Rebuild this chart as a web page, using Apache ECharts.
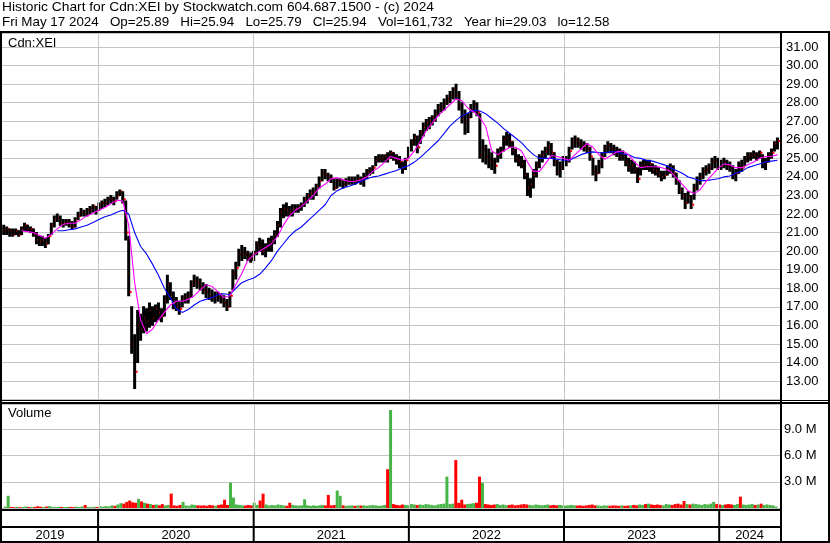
<!DOCTYPE html>
<html><head><meta charset="utf-8">
<script src="https://cdn.jsdelivr.net/npm/echarts@6/dist/echarts.min.js"></script>
<style>html,body{margin:0;padding:0;background:#fff}#c{width:830px;height:543px}</style>
</head><body><div id="c"></div>
<script>
// ---------- texts ----------
const titleLine1 = 'Historic Chart for Cdn:XEI by Stockwatch.com 604.687.1500 - (c) 2024';
const titleLine2 = 'Fri May 17 2024   Op=25.89   Hi=25.94   Lo=25.79   Cl=25.94   Vol=161,732   Year hi=29.03   lo=12.58';
const symbolLabel = 'Cdn:XEI';
const volumeLabel = 'Volume';
const yearLabels = ['2019', '2020', '2021', '2022', '2023', '2024'];

// ---------- time frame (weekly bars, first bar Fri 2019-05-24, last Fri 2024-05-17) ----------
const firstBar = [2019, 4, 24];
const axisStart = [2019, 4, 20];
const axisEnd = [2024, 4, 23];

// ---------- weekly price bars ----------
const lows = [
20.9,20.9,20.8,20.8,20.9,20.8,20.9,21.1,21.1,21.0,
20.8,20.4,20.3,20.3,20.2,20.4,20.9,21.3,21.6,21.4,
21.3,21.4,21.3,21.2,21.3,21.7,21.9,21.9,21.9,22.0,
22.1,22.0,22.2,22.3,22.4,22.5,22.6,22.5,22.8,23.0,
22.6,20.6,17.6,14.5,12.6,14.0,15.2,15.6,15.7,15.9,
16.0,16.2,16.3,16.2,16.5,17.2,17.4,16.9,16.8,16.6,
17.0,17.2,17.2,17.5,18.1,18.0,17.9,17.7,17.5,17.4,
17.3,17.2,17.3,17.2,17.0,16.8,17.0,17.9,18.5,19.2,
19.5,19.6,19.5,19.4,19.5,19.8,20.0,19.8,19.7,20.0,
20.0,20.4,20.8,21.3,21.8,21.9,21.9,21.9,22.1,22.1,
22.2,22.4,22.6,22.8,22.8,23.0,23.4,23.8,23.9,23.8,
23.7,23.3,23.4,23.5,23.4,23.5,23.6,23.6,23.6,23.7,
23.6,23.5,23.9,24.1,24.2,24.6,24.8,24.8,24.8,24.8,
25.0,24.9,24.7,24.5,24.2,24.4,25.0,25.4,25.7,25.3,
25.8,26.2,26.5,26.6,26.8,27.0,27.3,27.5,27.6,27.9,
28.0,28.2,28.2,27.6,26.9,26.3,26.4,27.2,27.5,27.3,
25.0,24.8,24.7,24.5,24.4,24.2,24.8,25.0,25.4,25.7,
25.6,25.2,24.8,24.6,24.5,23.9,23.0,22.9,23.4,24.0,
24.5,24.8,25.0,25.2,25.0,24.6,24.1,24.0,24.4,24.6,
24.8,25.5,25.6,25.6,25.5,25.4,25.3,24.9,24.1,23.8,
24.2,24.5,25.1,25.3,25.3,25.2,25.1,24.9,24.9,24.6,
24.3,24.2,24.2,23.7,24.1,24.4,24.4,24.3,24.2,24.1,
24.0,23.8,23.9,24.1,24.2,24.0,23.6,23.1,22.8,22.3,
22.6,22.3,22.8,23.3,23.6,23.9,24.1,24.2,24.4,24.5,
24.4,24.4,24.5,24.4,24.3,23.9,23.8,24.2,24.3,24.6,
24.8,24.9,25.0,24.9,25.0,24.5,24.4,24.8,25.0,25.4,25.5];
const highs = [
21.4,21.3,21.2,21.2,21.2,21.1,21.3,21.5,21.4,21.3,
21.2,21.0,20.8,20.8,20.7,20.9,21.5,21.9,22.0,21.9,
21.7,21.7,21.7,21.6,21.8,22.1,22.3,22.2,22.3,22.4,
22.5,22.4,22.6,22.7,22.8,22.9,23.0,22.9,23.2,23.3,
23.2,22.7,20.8,17.0,15.5,16.8,16.6,17.0,16.9,17.2,
17.0,17.1,17.2,16.9,17.6,18.7,18.3,17.8,17.5,17.3,
17.6,17.7,17.8,18.4,18.7,18.6,18.5,18.3,18.2,18.0,
17.9,17.8,17.8,17.7,17.6,17.4,17.8,19.0,19.4,20.1,
20.3,20.2,20.0,19.9,20.0,20.5,20.7,20.6,20.4,20.7,
20.8,21.1,21.6,22.3,22.5,22.6,22.4,22.5,22.5,22.5,
22.6,22.9,23.1,23.3,23.4,23.6,24.0,24.4,24.4,24.2,
24.1,23.9,23.9,23.9,23.8,23.9,24.0,24.0,24.0,24.1,
24.0,24.2,24.4,24.5,24.6,25.1,25.2,25.2,25.2,25.3,
25.4,25.3,25.2,25.1,24.8,25.0,25.6,26.0,26.3,26.2,
26.5,26.9,27.1,27.2,27.3,27.6,27.9,28.0,28.2,28.4,
28.6,28.8,29.0,28.6,28.0,27.6,27.4,27.9,28.1,28.0,
27.4,26.0,25.7,25.5,25.3,25.0,25.5,25.6,26.2,26.4,
26.3,25.9,25.5,25.2,25.1,24.9,24.2,23.9,24.4,24.8,
25.2,25.4,25.6,25.9,25.8,25.3,24.9,24.8,25.1,25.1,
25.6,26.1,26.2,26.1,26.0,25.9,25.8,25.6,25.0,24.6,
24.9,25.3,25.7,25.9,25.8,25.7,25.6,25.5,25.4,25.2,
25.0,24.9,24.8,24.5,24.8,24.9,24.9,24.9,24.7,24.6,
24.5,24.3,24.3,24.6,24.7,24.6,24.2,23.8,23.4,23.1,
23.2,23.0,23.6,24.0,24.2,24.5,24.6,24.7,25.0,25.1,
25.0,24.9,25.0,24.9,24.8,24.6,24.4,24.8,24.9,25.1,
25.3,25.3,25.4,25.3,25.4,25.2,25.0,25.3,25.5,25.9,26.1];
const closes = [
21.1,21.2,21.1,20.9,21.1,20.9,21.2,21.4,21.2,21.2,
20.9,20.6,20.5,20.6,20.4,20.8,21.4,21.7,21.8,21.5,
21.5,21.6,21.4,21.3,21.7,21.9,22.1,22.0,22.2,22.3,
22.4,22.2,22.5,22.6,22.6,22.8,22.8,22.7,23.0,23.2,
22.8,21.0,17.8,15.0,13.5,16.0,15.8,16.4,16.2,16.8,
16.4,16.9,16.7,16.5,17.3,18.2,17.6,17.2,17.0,16.9,
17.4,17.5,17.6,18.2,18.4,18.3,18.1,17.9,17.8,17.6,
17.5,17.6,17.5,17.4,17.2,17.0,17.6,18.8,19.1,19.8,
19.9,19.8,19.7,19.6,19.9,20.4,20.2,20.0,20.2,20.5,
20.6,20.9,21.4,22.1,22.3,22.2,22.1,22.3,22.3,22.4,
22.5,22.8,23.0,23.1,23.2,23.5,23.8,24.2,24.1,24.0,
23.9,23.4,23.8,23.85,23.6,23.7,23.8,23.9,23.8,23.9,
23.8,24.0,24.3,24.4,24.5,24.9,25.0,25.0,25.1,25.0,
25.3,25.0,24.9,24.8,24.5,24.9,25.5,25.9,26.1,25.6,
26.4,26.7,26.9,27.0,27.2,27.4,27.7,27.8,28.0,28.2,
28.4,28.7,28.4,27.8,27.2,27.0,27.2,27.6,27.9,27.5,
25.2,25.5,25.1,24.9,24.8,24.6,25.2,25.4,26.0,26.1,
25.9,25.4,25.0,24.9,24.7,24.1,23.4,23.6,24.1,24.6,
25.0,25.2,25.4,25.6,25.3,24.8,24.3,24.5,24.8,24.9,
25.4,25.9,26.0,25.8,25.7,25.6,25.5,25.1,24.3,24.2,
24.7,25.1,25.5,25.7,25.5,25.4,25.3,25.1,25.2,24.8,
24.5,24.6,24.4,23.9,24.6,24.7,24.6,24.7,24.4,24.3,
24.1,24.0,24.1,24.4,24.5,24.2,23.8,23.3,23.0,22.6,
22.9,22.5,23.4,23.8,24.0,24.3,24.4,24.5,24.8,24.9,
24.7,24.6,24.8,24.6,24.5,24.1,24.2,24.6,24.5,24.9,
25.1,25.2,25.2,25.1,25.3,24.7,24.8,25.2,25.3,25.8,25.94];

// ---------- weekly volume, millions of shares ----------
const volumesM = [
0.15,1.4,0.12,0.1,0.14,0.1,0.12,0.18,0.12,0.1,
0.13,0.2,0.15,0.12,0.17,0.22,0.12,0.1,0.14,0.12,
0.1,0.13,0.12,0.1,0.15,0.12,0.18,0.35,0.12,0.1,
0.14,0.12,0.2,0.15,0.22,0.18,0.3,0.25,0.4,0.55,
0.5,0.7,0.85,0.65,0.6,1.05,0.75,0.6,0.5,0.45,
0.35,0.4,0.3,0.45,0.3,0.35,1.65,0.3,0.25,0.35,
0.7,0.3,0.25,0.4,0.35,0.3,0.28,0.3,0.25,0.35,
0.3,0.25,0.35,0.4,0.95,0.35,2.9,1.2,0.4,0.35,
0.3,0.28,0.35,0.3,0.6,0.35,0.86,1.64,0.4,0.3,
0.35,0.3,0.4,0.35,0.3,0.25,0.6,0.35,0.3,0.28,
0.3,1.0,0.3,0.25,0.3,0.25,0.3,0.35,0.3,1.5,
0.3,0.35,2.0,1.4,0.3,0.25,0.28,0.3,0.25,0.3,
0.28,0.3,0.25,0.3,0.35,0.3,0.25,0.28,0.35,4.45,
11.25,0.45,0.35,0.3,0.4,0.35,0.3,0.45,0.4,0.35,
0.4,0.35,0.45,0.4,0.35,0.3,0.4,0.45,0.5,3.6,
0.45,0.5,5.5,0.6,0.95,0.4,0.45,0.5,0.55,0.6,
3.6,2.9,0.45,0.4,0.35,0.4,0.45,0.35,0.4,0.3,
0.35,0.4,0.3,0.35,0.4,0.45,0.4,0.35,0.3,0.4,
0.35,0.3,0.35,0.4,0.3,0.35,0.3,0.35,0.3,0.28,
0.3,0.35,0.3,0.28,0.3,0.25,0.3,0.35,0.4,0.3,
0.28,0.25,0.3,0.28,0.25,0.3,0.28,0.25,0.3,0.25,
0.28,0.3,0.35,0.3,0.4,0.35,0.45,0.5,0.4,0.35,
0.4,0.35,0.3,0.45,0.4,0.35,0.45,0.5,0.4,0.8,
0.45,0.4,0.5,0.45,0.4,0.35,0.45,0.4,0.5,0.7,
0.45,0.4,0.35,0.4,0.45,0.4,0.35,0.45,1.3,0.4,
0.35,0.4,0.45,0.35,0.4,0.5,0.35,0.4,0.35,0.3,0.16];

// ---------- moving averages, read every 2 weeks ----------
const maFast = [
null,null,null,21.1,21.05,21.0,20.85,20.7,20.9,21.2,
21.45,21.5,21.5,21.7,21.9,22.05,22.2,22.35,22.55,22.75,
22.7,21.4,18.3,16.3,15.55,15.8,16.3,16.7,17.1,17.3,
17.3,17.4,17.6,17.9,18.2,18.1,17.8,17.5,17.6,18.2,
18.8,19.5,19.8,20.0,20.2,20.4,20.8,21.4,21.9,22.2,
22.4,22.7,23.0,23.4,23.6,23.9,23.95,23.85,23.75,23.75,
23.85,24.0,24.3,24.5,24.8,25.1,25.0,24.9,25.0,25.4,
25.9,26.5,26.9,27.3,27.6,27.9,28.2,28.1,27.7,27.5,
27.2,26.7,25.4,25.2,25.4,25.6,25.6,25.4,24.8,24.3,
24.3,24.7,25.15,25.1,25.0,24.9,25.2,25.5,25.8,25.6,
25.2,24.95,25.15,25.35,25.4,25.2,24.8,24.5,24.55,24.55,
24.55,24.45,24.3,23.95,23.6,23.25,23.1,23.3,23.75,24.1,
24.45,24.7,24.65,24.5,24.5,24.65,24.8,25.0,25.1,25.1,
25.2];
const maSlow = [
null,null,null,null,null,null,null,null,null,21.1,
21.1,21.15,21.2,21.3,21.4,21.55,21.7,21.85,21.95,22.1,
22.2,22.0,21.0,20.25,19.85,19.3,18.7,18.0,17.5,16.9,
16.7,16.85,17.1,17.3,17.4,17.5,17.65,17.7,17.65,18.0,
18.3,18.45,18.55,18.75,19.1,19.5,20.0,20.4,20.8,21.1,
21.3,21.6,21.9,22.2,22.5,23.0,23.25,23.4,23.5,23.6,
23.75,23.9,24.0,24.05,24.15,24.25,24.35,24.5,24.6,24.8,
25.05,25.35,25.65,25.95,26.35,26.75,27.05,27.3,27.45,27.6,
27.55,27.4,27.15,26.9,26.6,26.35,26.1,25.85,25.5,25.2,
25.0,25.0,25.0,24.95,24.9,24.9,25.05,25.2,25.3,25.35,
25.3,25.3,25.35,25.35,25.25,25.2,25.05,25.0,24.9,24.85,
24.75,24.65,24.5,24.35,24.2,24.0,23.9,23.8,23.8,23.85,
23.9,24.0,24.05,24.2,24.3,24.5,24.6,24.7,24.8,24.85,
24.9];

// ---------- build ----------
const DAY = 86400000;
const utc = a => Date.UTC(a[0], a[1], a[2]);
const t0 = utc(firstBar);
const weekTime = i => t0 + i * 7 * DAY;
const xMin = utc(axisStart), xMax = utc(axisEnd);
const yearBounds = yearLabels.slice(1).map(y => Date.UTC(+y, 0, 1));

const barData = closes.map((c, i) => [weekTime(i), lows[i], highs[i], c]);
const volData = volumesM.map((v, i) => [weekTime(i), v]);
const maFastData = maFast.map((v, k) => [weekTime(2 * k), v]).filter(d => d[1] != null);
const maSlowData = maSlow.map((v, k) => [weekTime(2 * k), v]).filter(d => d[1] != null);

const FONT = "'Liberation Sans', Arial, sans-serif";
const GRID_GRAY = '#c4c4c4';
const UP = '#46b446', DOWN = '#ff0000';

const gridLeft = 2, gridWidth = 778;
const xAxisBase = { type: 'time', min: xMin, max: xMax, show: false };

const vline = (color, width) => ({
  silent: true, symbol: 'none', label: { show: false },
  lineStyle: { color: color, width: width, type: 'solid' },
  data: yearBounds.map(t => ({ xAxis: t }))
});

const chart = echarts.init(document.getElementById('c'), null, { renderer: 'canvas' });
const option = {
  animation: false,
  backgroundColor: '#fff',
  grid: [
    { left: gridLeft, width: gridWidth, top: 33.1, height: 366.5 },
    { left: gridLeft, width: gridWidth, top: 403.8, height: 104.2 },
    { left: gridLeft, width: gridWidth, top: 510, height: 32 }
  ],
  xAxis: [
    Object.assign({ gridIndex: 0 }, xAxisBase),
    Object.assign({ gridIndex: 1 }, xAxisBase),
    Object.assign({ gridIndex: 2 }, xAxisBase)
  ],
  yAxis: [
    { gridIndex: 0, type: 'value', position: 'right', min: 12, max: 31.75, interval: 1,
      axisLine: { show: false }, axisTick: { show: false },
      axisLabel: { margin: 6, color: '#000', fontSize: 13, fontFamily: FONT,
        showMinLabel: false, showMaxLabel: false, formatter: v => v.toFixed(2) },
      splitLine: { lineStyle: { color: GRID_GRAY, width: 1 } } },
    { gridIndex: 1, type: 'value', position: 'right', min: 0, max: 11.96, interval: 3,
      axisLine: { show: false }, axisTick: { show: false },
      axisLabel: { margin: 4, color: '#000', fontSize: 13, fontFamily: FONT,
        showMaxLabel: false, formatter: v => v === 0 ? '' : v.toFixed(1) + ' M' },
      splitLine: { lineStyle: { color: GRID_GRAY, width: 1 } } },
    { gridIndex: 2, type: 'value', min: 0, max: 1, show: false }
  ],
  series: [
    { type: 'line', xAxisIndex: 0, yAxisIndex: 0, data: [], z: 1, markLine: vline(GRID_GRAY, 1) },
    { type: 'line', xAxisIndex: 1, yAxisIndex: 1, data: [], z: 1, markLine: vline(GRID_GRAY, 1) },
    {
      type: 'custom', xAxisIndex: 0, yAxisIndex: 0, z: 3, clip: true,
      encode: { x: 0, y: [1, 2, 3] },
      data: barData,
      renderItem: function (params, api) {
        const t = api.value(0);
        const pLo = api.coord([t, api.value(1)]);
        const pHi = api.coord([t, api.value(2)]);
        const pCl = api.coord([t, api.value(3)]);
        return { type: 'group', children: [
          { type: 'line', shape: { x1: pLo[0], y1: pHi[1] - 0.5, x2: pLo[0], y2: pLo[1] + 0.5 },
            style: { stroke: '#000', lineWidth: 3 } },
          { type: 'line', shape: { x1: pCl[0] + 1, y1: pCl[1], x2: pCl[0] + 3, y2: pCl[1] },
            style: { stroke: '#ff0000', lineWidth: 2 } }
        ] };
      }
    },
    { type: 'line', xAxisIndex: 0, yAxisIndex: 0, z: 5, data: maSlowData, symbol: 'none',
      lineStyle: { color: '#0000ff', width: 1.1 } },
    { type: 'line', xAxisIndex: 0, yAxisIndex: 0, z: 6, data: maFastData, symbol: 'none',
      lineStyle: { color: '#ff00ff', width: 1.1 } },
    {
      type: 'bar', xAxisIndex: 1, yAxisIndex: 1, z: 3, barWidth: 3, data: volData,
      itemStyle: { color: p => (p.dataIndex === 0 || closes[p.dataIndex] >= closes[p.dataIndex - 1]) ? UP : DOWN }
    },
    {
      type: 'custom', xAxisIndex: 2, yAxisIndex: 2, z: 4, clip: false,
      data: yearLabels.map(y => [Date.UTC(+y, 6, 1), 0.5, +y]),
      renderItem: function (params, api) {
        const cs = params.coordSys;
        const yr = api.value(2);
        let x1 = api.coord([Date.UTC(yr, 0, 1), 0])[0];
        let x2 = api.coord([Date.UTC(yr + 1, 0, 1), 0])[0];
        x1 = Math.max(x1, cs.x); x2 = Math.min(x2, cs.x + cs.width);
        const children = [
          { type: 'text', x: (x1 + x2) / 2, y: cs.y + 25.5,
            style: { text: String(yr), fill: '#000', font: '13px ' + FONT, align: 'center', verticalAlign: 'middle' } }
        ];
        if (x2 < cs.x + cs.width - 1) {
          children.push({ type: 'rect', shape: { x: x2 - 1, y: cs.y, width: 2, height: cs.height },
            style: { fill: '#000' } });
        }
        return { type: 'group', children: children };
      }
    }
  ],
  graphic: [
    { type: 'text', x: 2, y: 1, scaleX: 1.06, z: 100, style: { text: titleLine1, fill: '#000', font: '13px ' + FONT } },
    { type: 'text', x: 2, y: 16, scaleX: 1.03, z: 100, style: { text: titleLine2, fill: '#000', font: '13px ' + FONT } },
    { type: 'text', x: 8, y: 37, z: 100, style: { text: symbolLabel, fill: '#000', font: '13px ' + FONT } },
    { type: 'text', x: 8, y: 407, z: 100, style: { text: volumeLabel, fill: '#000', font: '13px ' + FONT } },
    // frame
    { type: 'rect', z: 100, shape: { x: 0, y: 31, width: 830, height: 2 }, style: { fill: '#000' } },
    { type: 'rect', z: 100, shape: { x: 0, y: 31, width: 2, height: 512 }, style: { fill: '#000' } },
    { type: 'rect', z: 100, shape: { x: 828, y: 31, width: 2, height: 512 }, style: { fill: '#000' } },
    { type: 'rect', z: 100, shape: { x: 780, y: 31, width: 2, height: 512 }, style: { fill: '#000' } },
    { type: 'rect', z: 100, shape: { x: 0, y: 400, width: 830, height: 1 }, style: { fill: '#000' } },
    { type: 'rect', z: 100, shape: { x: 0, y: 402, width: 830, height: 2 }, style: { fill: '#000' } },
    { type: 'rect', z: 100, shape: { x: 0, y: 509, width: 782, height: 2 }, style: { fill: '#000' } },
    { type: 'rect', z: 100, shape: { x: 0, y: 526, width: 782, height: 2 }, style: { fill: '#000' } },
    { type: 'rect', z: 100, shape: { x: 0, y: 541, width: 830, height: 2 }, style: { fill: '#000' } }
  ]
};
chart.setOption(option);
</script>
</body></html>
